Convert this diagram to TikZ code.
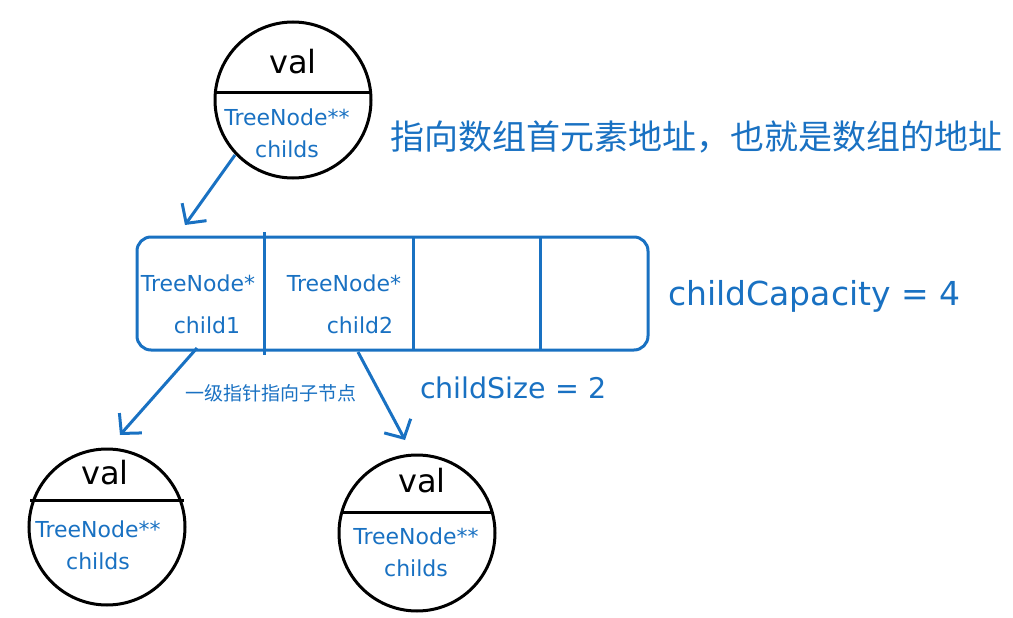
\documentclass[tikz,border=0pt]{standalone}
\usepackage{fontspec}
\setmainfont{DejaVu Sans}
\newfontfamily\cjk{Noto Sans CJK SC}
\usetikzlibrary{arrows.meta}
\definecolor{eb}{RGB}{25,113,194}
\begin{document}
\begin{tikzpicture}[x=1pt,y=-1pt,
  circ/.style={draw=black,line width=3pt,circle,minimum size=156pt,inner sep=0pt},
  bl/.style={text=eb,font=\fontsize{22}{32}\selectfont,inner sep=0pt},
  vl/.style={font=\fontsize{32}{34}\selectfont},
  blue line/.style={draw=eb,line width=3pt},
  arr/.style={blue line,-{Straight Barb[length=14pt,width=30pt]}}]
\useasboundingbox (0,0) rectangle (1013,618);
% top node
\node[circ] (t) at (293,100) {};
\draw[line width=3pt] (215,93) -- (371,93);
\node[vl] (tv) at (293,62) {val};
\node[bl,align=center] (tt) at (287,133) {TreeNode**\\childs};
% array
\draw[blue line,rounded corners=14pt] (137,237) rectangle (648,350);
\coordinate (arrTop) at (185,225);
\coordinate (c1) at (197,348);
\coordinate (c2) at (358,352);
\draw[blue line] (264,232) -- (264,355);
\draw[blue line] (413,237) -- (413,350);
\draw[blue line] (540,237) -- (540,350);
\node[bl] (a1) at (198,283) {TreeNode*};
\node[bl] (a2) at (344,283) {TreeNode*};
\node[bl] (b1) at (207,325) {child1};
\node[bl] (b2) at (360,325) {child2};
% left node
\node[circ] (l) at (107,527) {};
\draw[line width=3pt] (30,500) -- (184,500);
\node[vl] (lv) at (105,473) {val};
\node[bl,align=center] (lt) at (98,545) {TreeNode**\\childs};
% right node
\node[circ] (r) at (417,533) {};
\draw[line width=3pt] (341,512) -- (493,512);
\node[vl] (rv) at (422,481) {val};
\node[bl,align=center] (rt) at (416,552) {TreeNode**\\childs};
% arrows
\draw[arr] (235,155) -- (arrTop);
\draw[arr] (c1) -- (120,435);
\draw[arr] (c2) -- (405,440);
% labels
\node[text=eb,font=\cjk\fontsize{34}{36}\selectfont,anchor=west,inner sep=0pt] (n1) at (390,137) {指向数组首元素地址，也就是数组的地址};
\node[text=eb,font=\fontsize{33}{35}\selectfont,anchor=west,inner sep=0pt] (n2) at (668,296) {childCapacity = 4};
\node[text=eb,font=\fontsize{28.5}{30}\selectfont,anchor=west,inner sep=0pt] (n3) at (420,388) {childSize = 2};
\node[text=eb,font=\cjk\fontsize{19}{20}\selectfont] (n4) at (271,393) {一级指针指向子节点};
\end{tikzpicture}
\end{document}
